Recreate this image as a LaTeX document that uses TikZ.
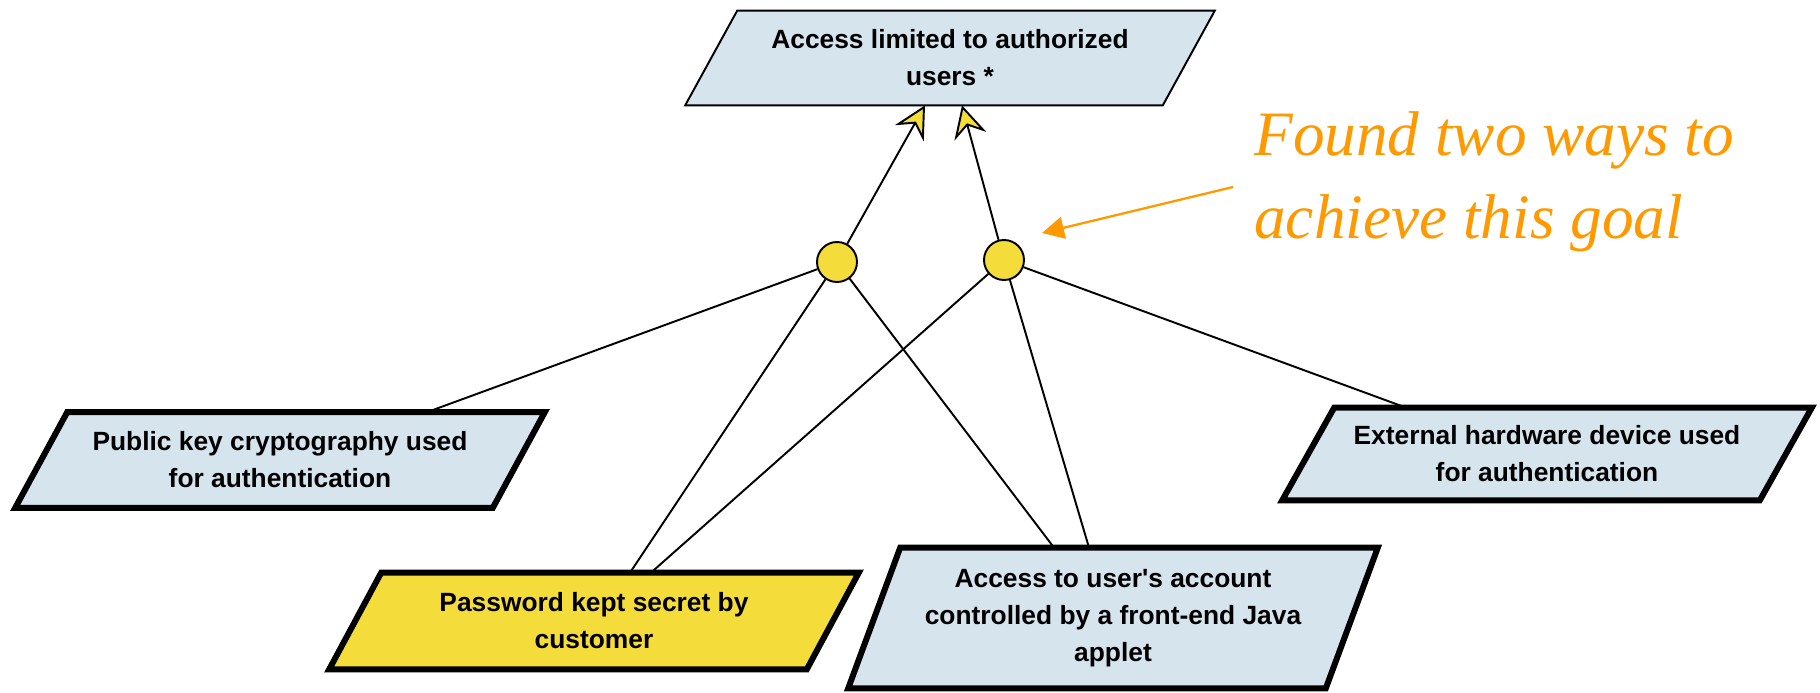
\documentclass[tikz,border=0pt]{standalone}
\usepackage{fontspec}
\setmainfont{Liberation Serif}
\newfontfamily\boxfont{Liberation Sans}[Ligatures=TeXOff]
\usepackage{tikz}
\usetikzlibrary{positioning, calc, arrows.meta, backgrounds}
\definecolor{goalblue}{HTML}{D6E4EE}
\definecolor{goalyellow}{HTML}{F4DC3A}
\definecolor{noteorange}{HTML}{FF9900}
\tikzset{goaltext/.style={font=\boxfont\bfseries\fontsize{15}{21}\selectfont, align=center, minimum width=9.54cm, inner sep=0pt},
    andnode/.style={circle, draw=black, fill=goalyellow, line width=1.1pt, minimum size=0.8cm, inner sep=0pt},
    link/.style={line width=1.1pt},
    goalarrow/.style={link, -{Stealth[length=6.4mm, width=6.6mm, inset=2.2mm, fill=goalyellow]}},
    notetext/.style={font=\rmfamily\itshape\fontsize{36}{47}\selectfont, text=noteorange, align=left, inner sep=0pt},
    notearrow/.style={draw=noteorange, line width=1.3pt, -{Triangle[length=4.4mm, width=4.4mm]}}}
% parallelogram behind a goal node: name, border width, fill
\newcommand\pgram[3]{\draw[line width=#2, fill=#3] ($(#1.south west)+(-26,0)$) -- ($(#1.south east)+(-26,0)$) -- ($(#1.north east)+(26,0)$) -- ($(#1.north west)+(26,0)$) -- cycle;}

\begin{document}
\begin{tikzpicture}[x=0.02cm, y=-0.02cm]
                      \useasboundingbox (0,0) rectangle (1820,693);

                      \node[goaltext, minimum height=1.88cm] (goal) at (950,58) {Access limited to authorized\\users *};
                      \node[goaltext, minimum height=1.9cm] (pubkey) at (280,460) {Public key cryptography used\\for authentication};
                      \node[goaltext, minimum height=1.92cm] (passwd) at (594,621) {Password kept secret by\\customer};
                      \node[goaltext, minimum height=2.8cm] (applet) at (1113,618) {Access to user's account\\controlled by a front-end Java\\applet};
                      \node[goaltext, minimum height=1.84cm] (hwdev) at (1547,454) {External hardware device used\\for authentication};

                      \begin{scope}[on background layer]
                      \pgram{goal}{1.1pt}{goalblue}
                      \pgram{pubkey}{3.4pt}{goalblue}
                      \pgram{passwd}{3.4pt}{goalyellow}
                      \pgram{applet}{3.4pt}{goalblue}
                      \pgram{hwdev}{3.4pt}{goalblue}
                      \end{scope}

                      \node[andnode] (and1) at (837,262) {};
                      \node[andnode] (and2) at (1004,260) {};

                      \coordinate (goalin1) at ($(goal.south)+(-25,0)$);
                      \coordinate (goalin2) at ($(goal.south)+(12,0)$);
                      \coordinate (pubkeyin) at ($(pubkey.north)+(147,0)$);
                      \coordinate (passwdin1) at ($(passwd.north)+(36,0)$);
                      \coordinate (passwdin2) at ($(passwd.north)+(57,0)$);
                      \coordinate (appletin1) at ($(applet.north)+(-59,0)$);
                      \coordinate (appletin2) at ($(applet.north)+(-24,0)$);
                      \coordinate (hwdevin) at ($(hwdev.north)+(-141,0)$);

                      \draw[goalarrow] (and1) -- (goalin1);
                      \draw[goalarrow] (and2) -- (goalin2);
                      \draw[link] (and1) -- (pubkeyin);
                      \draw[link] (and1) -- (passwdin1);
                      \draw[link] (and1) -- (appletin1);
                      \draw[link] (and2) -- (passwdin2);
                      \draw[link] (and2) -- (appletin2);
                      \draw[link] (and2) -- (hwdevin);

                      \node[notetext, anchor=west] (note) at (1254,182) {Found two ways to\\achieve this goal};
                      \coordinate (notetail) at ($(note.west)+(-21,5)$);
                      \coordinate (notetip) at ($(and2)+(38,-27)$);
                      \draw[notearrow] (notetail) -- (notetip);
             \end{tikzpicture}
\end{document}
